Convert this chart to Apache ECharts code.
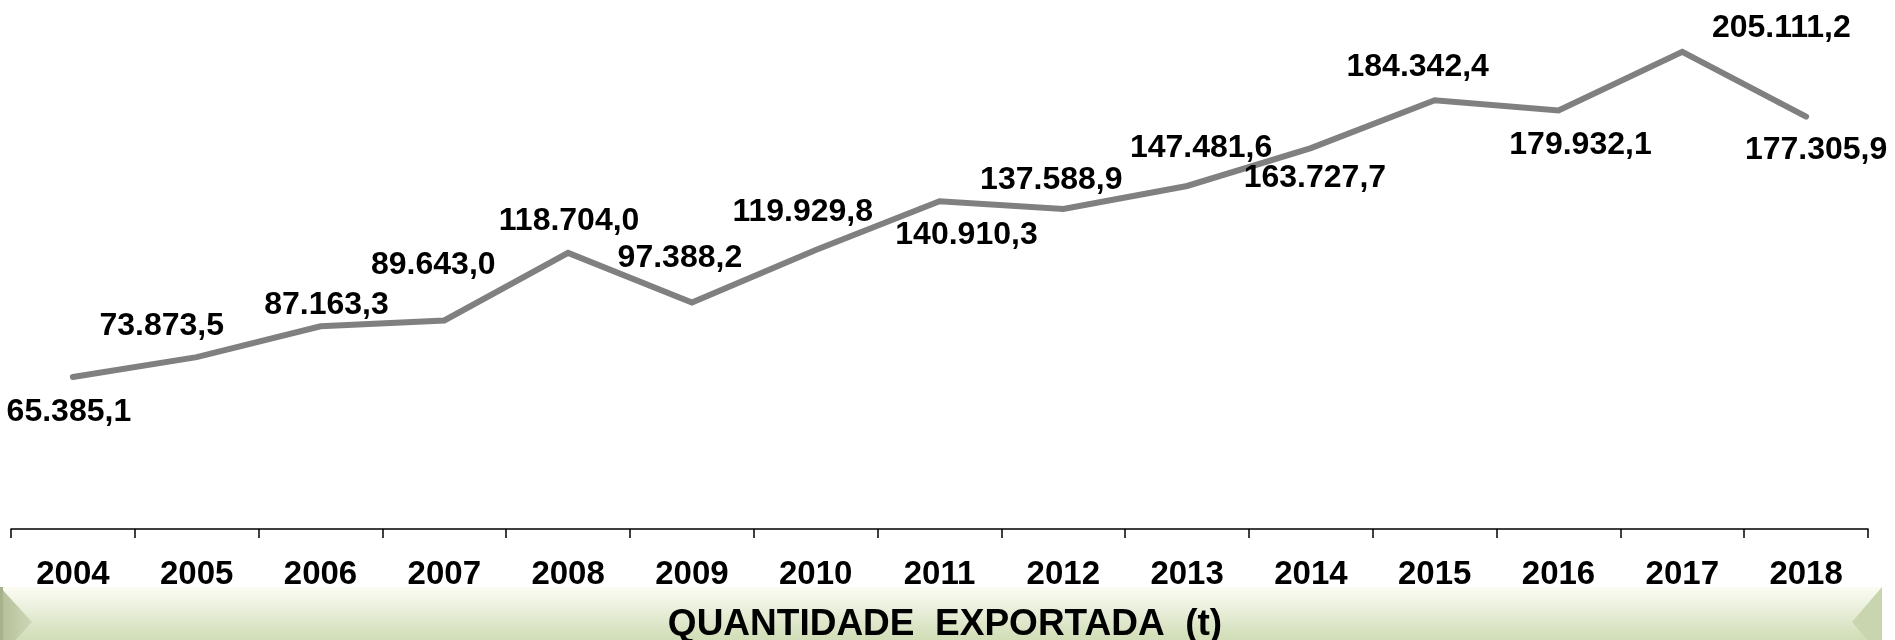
<!DOCTYPE html>
<html>
<head>
<meta charset="utf-8">
<script src="https://cdn.jsdelivr.net/npm/echarts@6/dist/echarts.min.js"></script>
<style>
html,body{margin:0;padding:0;background:#fff;}
#chart{width:1895px;height:640px;}
</style>
</head>
<body>
<div id="chart"></div>
<script>
// ---- data ----
var years = ['2004','2005','2006','2007','2008','2009','2010','2011','2012','2013','2014','2015','2016','2017','2018'];
var quantities = [65385.1, 73873.5, 87163.3, 89643.0, 118704.0, 97388.2, 119929.8, 140910.3, 137588.9, 147481.6, 163727.7, 184342.4, 179932.1, 205111.2, 177305.9];
var titleText = 'QUANTIDADE  EXPORTADA  (t)';

// ---- label placement (style only) ----
var labelOffsets = [[-4,35],[-35,-31],[6,-21],[-11,-55],[1,-32],[-12,-44],[-13,-38],[27,34],[-12,-29],[14,-38],[4,30],[-17,-33],[22,35],[99,-24],[10,34]];

function fmtBR(v){
  var parts = v.toFixed(1).split('.');
  var intPart = parts[0].replace(/\B(?=(\d{3})+(?!\d))/g, '.');
  return intPart + ',' + parts[1];
}

var chart = echarts.init(document.getElementById('chart'));
var seriesData = quantities.map(function(v,i){
  return {value: v, label: {offset: labelOffsets[i]}};
});

var option = {
  animation: false,
  backgroundColor: '#ffffff',
  grid: {left: 11, right: 27, top: 5.65, bottom: 111},
  xAxis: {
    type: 'category',
    data: years,
    boundaryGap: true,
    axisLine: {lineStyle: {color: '#000', width: 1.5}},
    axisTick: {show: true, length: 9, lineStyle: {color: '#000', width: 1.5}},
    axisLabel: {
      color: '#000', fontSize: 33, fontWeight: 'bold',
      fontFamily: 'Liberation Sans, Arial, sans-serif', margin: 29, interval: 0
    },
    splitLine: {show: false}
  },
  yAxis: {
    type: 'value', min: 0, max: 225000, show: false,
    splitLine: {show: false}
  },
  series: [{
    type: 'line',
    data: seriesData,
    symbol: 'circle',
    symbolSize: 1,
    showSymbol: true,
    itemStyle: {color: '#808080'},
    lineStyle: {color: '#808080', width: 6, cap: 'round', join: 'miter'},
    label: {
      show: true,
      position: 'inside',
      align: 'center',
      verticalAlign: 'middle',
      color: '#000',
      fontSize: 32,
      fontWeight: 'bold',
      fontFamily: 'Liberation Sans, Arial, sans-serif',
      formatter: function(p){ return fmtBR(p.value); }
    },
    emphasis: {disabled: true}
  }],
  graphic: [
    {
      type: 'rect', z: -1,
      shape: {x: 0, y: 587, width: 1882, height: 70},
      style: {
        fill: new echarts.graphic.LinearGradient(0,0,0,1,[
          {offset: 0, color: '#fbfcf4'},
          {offset: 0.35, color: '#e8eed9'},
          {offset: 0.7, color: '#d3dfba'},
          {offset: 1, color: '#ccd9b0'}
        ])
      }
    },
    {
      type: 'polygon', z: 0,
      shape: {points: [[0,587],[32,622],[0,657]]},
      style: {
        fill: new echarts.graphic.LinearGradient(0,0,1,0,[
          {offset: 0, color: '#b4bf98'},
          {offset: 1, color: '#cdd7b6'}
        ])
      }
    },
    {
      type: 'rect', z: 0,
      shape: {x: 0, y: 587, width: 3, height: 70},
      style: {fill: '#a6b28b'}
    },
    {
      type: 'polygon', z: 0,
      shape: {points: [[1882,587],[1852,622],[1882,657]]},
      style: {fill: '#c9d5ae'}
    },
    {
      type: 'text', z: 2,
      x: 945, y: 625,
      style: {
        text: titleText,
        fill: '#000',
        font: 'bold 37px "Liberation Sans", Arial, sans-serif',
        textAlign: 'center',
        textVerticalAlign: 'middle'
      }
    }
  ]
};
chart.setOption(option);
</script>
</body>
</html>
